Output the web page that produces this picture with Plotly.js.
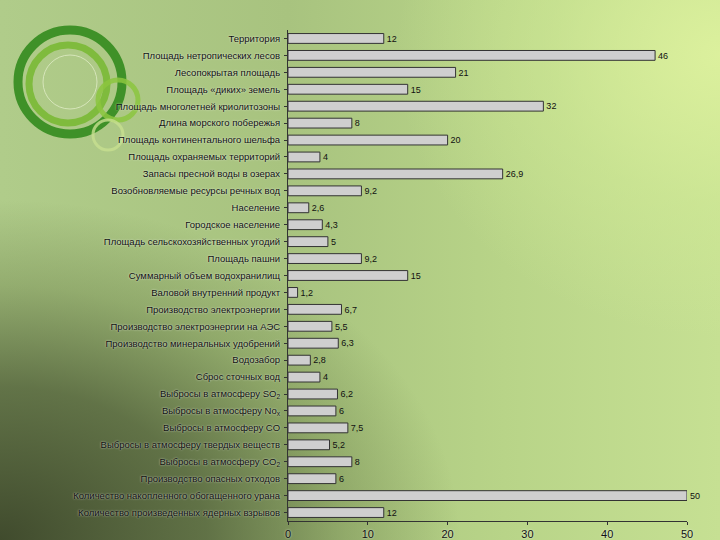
<!DOCTYPE html>
<html><head><meta charset="utf-8">
<script src="https://cdn.plot.ly/plotly-3.0.1.min.js"></script>
<style>
html,body{margin:0;padding:0;}
#wrap{width:720px;height:540px;position:relative;overflow:hidden;
background:
 radial-gradient(ellipse 60% 70% at 100% 10%, rgba(222,242,158,0.9) 0%, rgba(210,235,150,0.5) 40%, rgba(200,225,140,0) 75%),
 radial-gradient(ellipse 460px 340px at 0% 100%, rgba(58,68,40,0.95) 0%, rgba(72,86,50,0.75) 45%, rgba(95,115,62,0.35) 75%, rgba(120,140,80,0) 100%),
 linear-gradient(90deg, #b0cc8a 0%, #a8c37f 40%, #b8d488 70%, #c6e093 100%);}
#chart{width:720px;height:540px;}
</style></head>
<body><div id="wrap"><div id="chart"></div></div>
<script>
const categories = [
 "Территория",
 "Площадь нетропических лесов",
 "Лесопокрытая площадь",
 "Площадь «диких» земель",
 "Площадь многолетней криолитозоны",
 "Длина морского побережья",
 "Площадь континентального шельфа",
 "Площадь охраняемых территорий",
 "Запасы пресной воды в озерах",
 "Возобновляемые ресурсы речных вод",
 "Население",
 "Городское население",
 "Площадь сельскохозяйственных угодий",
 "Площадь пашни",
 "Суммарный объем водохранилищ",
 "Валовой внутренний продукт",
 "Производство электроэнергии",
 "Производство электроэнергии на АЭС",
 "Производство минеральных удобрений",
 "Водозабор",
 "Сброс сточных вод",
 "Выбросы в атмосферу SO<sub>2</sub>",
 "Выбросы в атмосферу No<sub>x</sub>",
 "Выбросы в атмосферу CO",
 "Выбросы в атмосферу твердых веществ",
 "Выбросы в атмосферу CO<sub>2</sub>",
 "Производство опасных отходов",
 "Количество накопленного обогащенного урана",
 "Количество произведенных ядерных взрывов"
];
const values = [12,46,21,15,32,8,20,4,26.9,9.2,2.6,4.3,5,9.2,15,1.2,6.7,5.5,6.3,2.8,4,6.2,6,7.5,5.2,8,6,50,12];
const xTicks = [0,10,20,30,40,50];

const L=288, R=687, T=30, B=521, W=720, H=540;
function px(x){return (x-L)/(R-L);}
function py(y){return (B-y)/(B-T);}
function ring(cx,cy,r,color,w,op){
  return {type:'circle',xref:'paper',yref:'paper',layer:'below',
    x0:px(cx-r),x1:px(cx+r),y0:py(cy+r),y1:py(cy-r),
    line:{color:color,width:w},fillcolor:'rgba(0,0,0,0)',opacity:op};
}
const shapes=[
  ring(70,82,52,'#3f9128',9,1),
  ring(68,84,39,'#7dbb3a',7,0.95),
  ring(118,100,20,'#8cc63f',5,0.85),
  ring(108,135,15,'#c8e090',3,0.8),
  ring(70,82,27,'#e8f2d0',1,0.7)
];

const trace={
  type:'bar',orientation:'h',
  y:categories,x:values,
  text:values.map(v=>String(v).replace('.',',')),
  textposition:'outside',cliponaxis:false,
  textfont:{family:'Arial, Liberation Sans, sans-serif',size:11,color:'#111'},
  marker:{color:'#cfcfcf',line:{color:'#333333',width:1}},
  hoverinfo:'none'
};
const layout={
  width:W,height:H,
  paper_bgcolor:'rgba(0,0,0,0)',plot_bgcolor:'rgba(0,0,0,0)',
  margin:{l:L,r:W-R,t:T,b:H-B,pad:0},
  bargap:0.42,showlegend:false,
  font:{family:'Arial, Liberation Sans, sans-serif',size:9.5,color:'#111'},
  xaxis:{range:[0,50],tickvals:xTicks,ticktext:xTicks.map(String),showgrid:false,zeroline:false,
    showline:true,linecolor:'#333',linewidth:1,ticks:'outside',ticklen:3,tickcolor:'#333',
    tickfont:{size:11,color:'#111',shadow:'0px 0px 2px rgba(255,255,255,0.8)'}},
  yaxis:{autorange:'reversed',showgrid:false,zeroline:false,showline:true,linecolor:'#333',linewidth:1,
    ticks:'outside',ticklen:3,tickcolor:'#333',ticklabelstandoff:2,
    tickfont:{size:9.5,color:'#111',shadow:'0px 0px 2px rgba(255,255,255,0.8)'}},
  shapes:shapes
};
Plotly.newPlot('chart',[trace],layout,{displayModeBar:false,staticPlot:true});
</script></body></html>
